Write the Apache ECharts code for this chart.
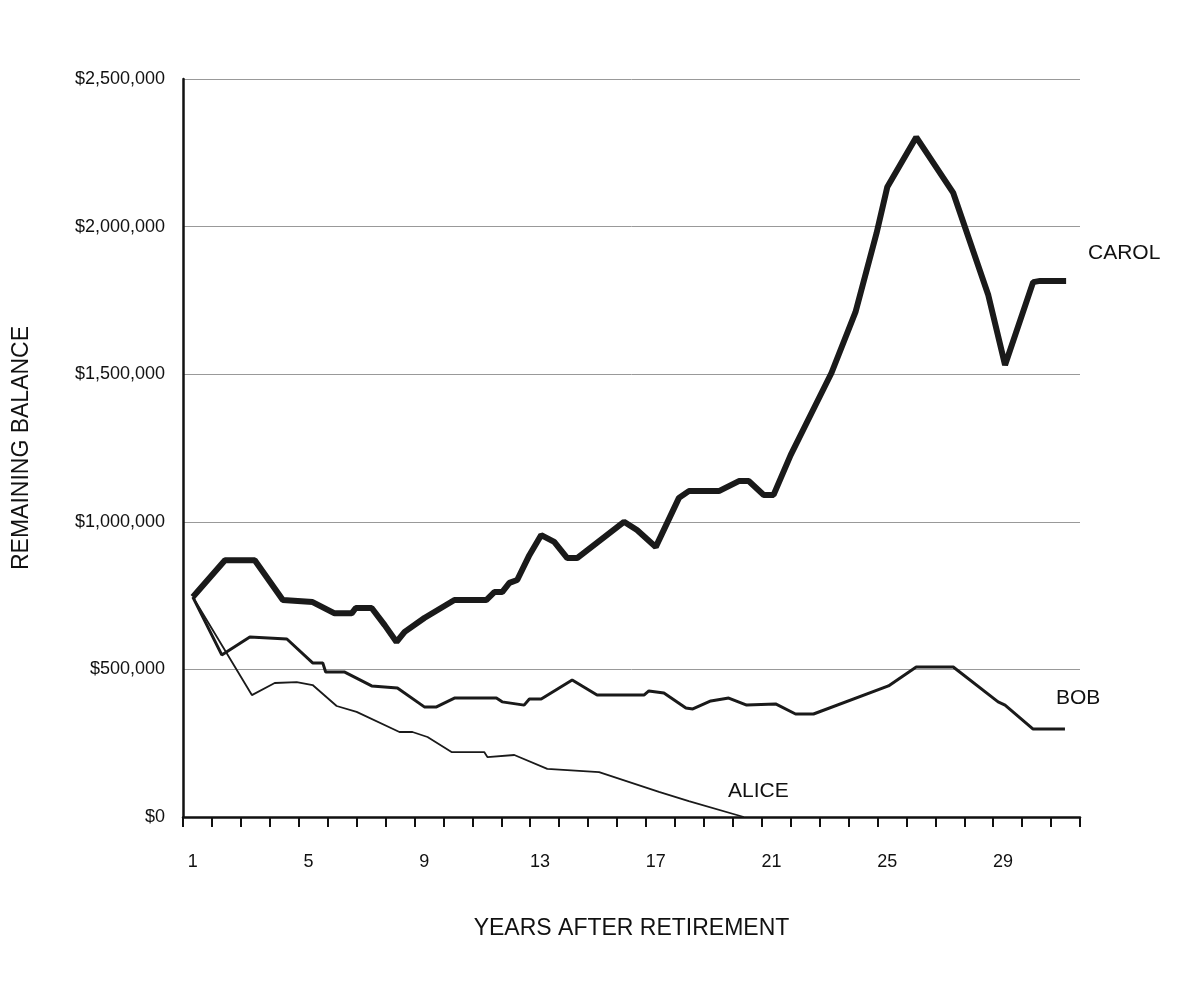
<!DOCTYPE html>
<html><head><meta charset="utf-8">
<script src="https://cdn.jsdelivr.net/npm/echarts@6/dist/echarts.min.js"></script>
<style>html,body{margin:0;background:#fff}#c{width:1200px;height:981px}</style>
</head><body><div id="c"></div>
<script>
// x values are in years-from-axis-start (tick k = boundary of year k+1)
const carolX = [0.34,1.45,2.48,3.45,4.48,5.24,5.83,5.97,6.52,6.97,7.38,7.66,8.34,9.38,10.48,10.76,11.03,11.28,11.55,11.97,12.38,12.83,13.28,13.62,15.24,15.69,16.34,17.14,17.48,18.52,19.21,19.55,20.07,20.41,21.0,22.41,23.24,23.97,24.34,25.34,26.62,27.83,28.41,29.38,29.62,30.52];
const carolY = [745,870,870,735,728,690,690,708,708,650,593,627,674,735,735,762,762,793,803,887,955,932,877,877,1000,972,915,1081,1104,1104,1138,1138,1091,1091,1226,1504,1710,1978,2134,2303,2114,1768,1531,1812,1816,1816];
const bobX = [0.34,1.34,2.31,3.59,4.48,4.83,4.93,5.59,6.52,7.41,8.34,8.76,9.38,10.83,11.03,11.79,11.97,12.38,13.45,14.31,15.93,16.10,16.62,17.38,17.62,18.24,18.86,19.48,20.48,21.17,21.79,24.38,25.34,26.62,28.17,28.41,29.38,30.48];
const bobY = [745,549,610,603,522,522,491,491,444,437,373,373,403,403,390,379,400,400,464,413,413,427,420,369,366,393,403,379,383,349,349,444,508,508,390,379,298,298];
const aliceX = [0.34,2.38,3.17,3.93,4.48,5.31,6.0,7.48,7.93,8.45,9.28,10.41,10.52,11.45,12.59,14.38,16.45,17.48,19.38];
const aliceY = [745,413,454,457,447,376,356,288,288,271,220,220,203,210,163,152,85,54,0];
const yearLabels = [1,5,9,13,17,21,25,29];

const pts = (xs, ys) => xs.map((x, i) => [x, ys[i] * 1000]);
const font = "'Liberation Sans', Arial, sans-serif";
const money = (v) => "$" + v.toLocaleString("en-US");

const chart = echarts.init(document.getElementById("c"));
chart.setOption({
  animation: false,
  grid: { left: 183, right: 120, top: 79, bottom: 164 },
  xAxis: [
    { type: "value", min: 0, max: 31, interval: 1,
      axisLine: { onZero: false, lineStyle: { color: "#111", width: 2.5 } },
      axisTick: { length: 10, lineStyle: { color: "#111", width: 2 } },
      axisLabel: { show: false }, splitLine: { show: false } },
    { type: "value", min: 0, max: 31, position: "bottom",
      axisLine: { show: false }, axisTick: { show: false }, splitLine: { show: false },
      axisLabel: { customValues: yearLabels.map((y) => y - 0.66), formatter: (v) => Math.round(v + 0.66),
        margin: 36, color: "#111", fontSize: 18, fontFamily: font },
      name: "YEARS AFTER RETIREMENT", nameLocation: "middle", nameGap: 100,
      nameTextStyle: { color: "#111", fontSize: 23, fontFamily: font } }
  ],
  yAxis: { type: "value", min: 0, max: 2500000, interval: 500000,
    axisLine: { show: true, lineStyle: { color: "#111", width: 2.5 } },
    axisTick: { show: false },
    axisLabel: { formatter: money, margin: 18, color: "#111", fontSize: 18, fontFamily: font },
    splitLine: { lineStyle: { color: "#999", width: 1 } },
    name: "REMAINING BALANCE", nameLocation: "middle", nameGap: 150,
    nameTextStyle: { color: "#111", fontSize: 23, fontFamily: font } },
  series: [
    { name: "CAROL", type: "line", data: pts(carolX, carolY), symbol: "none",
      lineStyle: { color: "#1a1a1a", width: 6 } },
    { name: "BOB", type: "line", data: pts(bobX, bobY), symbol: "none",
      lineStyle: { color: "#1a1a1a", width: 3 } },
    { name: "ALICE", type: "line", data: pts(aliceX, aliceY), symbol: "none",
      lineStyle: { color: "#1a1a1a", width: 1.8 } }
  ],
  graphic: [
    { type: "text", left: 1088, top: 243, style: { text: "CAROL", fontSize: 21, fontFamily: font, fill: "#111" } },
    { type: "text", left: 1056, top: 688, style: { text: "BOB", fontSize: 21, fontFamily: font, fill: "#111" } },
    { type: "text", left: 728, top: 781, style: { text: "ALICE", fontSize: 21, fontFamily: font, fill: "#111" } }
  ]
});
</script></body></html>
